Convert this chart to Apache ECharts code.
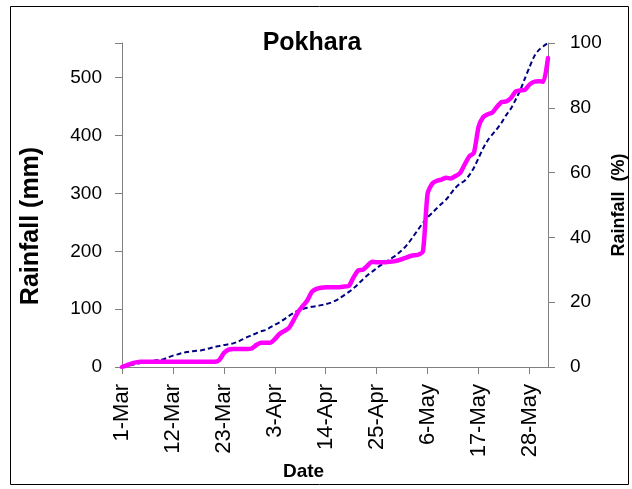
<!DOCTYPE html>
<html>
<head>
<meta charset="utf-8">
<script src="https://cdn.jsdelivr.net/npm/echarts@6/dist/echarts.min.js"></script>
<style>
  html, body { margin: 0; padding: 0; background: #fff; }
  #chart { width: 632px; height: 489px; }
</style>
</head>
<body>
<div id="chart"></div>
<script>
// daily categories, 1-Mar .. 1-Jun
const MONTHS = [['Mar', 31], ['Apr', 30], ['May', 31], ['Jun', 1]]
const dates = []
MONTHS.forEach(([m, n]) => { for (let d = 1; d <= n; d++) dates.push(d + '-' + m) })

// cumulative rainfall (mm), left axis
const rainMm = [
  0, 3, 6, 8, 9, 9, 9, 9, 9, 9,
  9, 9, 9, 9, 9, 9, 9, 9, 9, 9,
  9, 12, 24, 30, 31, 31, 31, 31, 32, 38,
  42, 42, 42, 48, 57, 62, 67, 80, 95, 105,
  115, 130, 135, 137, 138, 138, 138, 138, 139, 140,
  155, 167, 168, 175, 182, 181, 181, 181, 182, 183,
  185, 188, 191, 193, 194, 200, 300, 317, 322, 324,
  327, 326, 330, 335, 350, 364, 370, 415, 432, 437,
  440, 450, 458, 459, 465, 476, 478, 479, 488, 493,
  494, 493, 534
]

// cumulative rainfall (%), right axis
const rainPct = [
  0, 0.3, 0.6, 0.9, 1.2, 1.5, 1.8, 2.0, 2.2, 2.4,
  3.0, 3.5, 3.9, 4.3, 4.6, 4.8, 5.0, 5.1, 5.4, 5.8,
  6.2, 6.5, 6.8, 7.0, 7.3, 7.8, 8.5, 9.2, 9.8, 10.4,
  11.0, 11.4, 12.2, 13.0, 13.8, 14.7, 15.7, 16.6, 17.4, 17.9,
  18.3, 18.6, 18.8, 19.1, 19.4, 19.8, 20.4, 21.2, 22.2, 23.2,
  24.3, 25.6, 27.0, 28.3, 29.4, 30.5, 31.5, 32.4, 33.4, 34.3,
  35.5, 36.8, 38.5, 40.5, 42.5, 44.5, 46.2, 47.6, 49.0, 50.4,
  51.7, 53.5, 55.3, 56.6, 57.5, 59.2, 61.5, 64.5, 67.5, 70.0,
  71.8, 73.5, 75.5, 77.8, 79.8, 82.5, 85.4, 89.0, 92.5, 95.8,
  97.8, 99.0, 100
]

const FONT = 'Liberation Sans, Arial, sans-serif'
const AXIS_COLOR = '#808080'

const chart = echarts.init(document.getElementById('chart'))

chart.setOption({
  animation: false,
  textStyle: { fontFamily: FONT },
  title: {
    text: 'Pokhara',
    left: 307,
    top: 26,
    textAlign: 'center',
    textStyle: { fontSize: 25, fontWeight: 'bold', color: '#000', fontFamily: FONT }
  },
  graphic: [
    {
      type: 'rect',
      shape: { x: 10.5, y: 6.5, width: 618, height: 478 },
      style: { fill: 'none', stroke: '#000', lineWidth: 1 },
      z: -1
    },
    {
      type: 'text',
      left: 283,
      top: 462,
      style: { text: 'Date', font: 'bold 19px ' + FONT, fill: '#000' }
    }
  ],
  grid: { left: 122, right: 84, top: 43, bottom: 122, outerBoundsMode: 'none', containLabel: false },
  xAxis: {
    type: 'category',
    data: dates,
    boundaryGap: false,
    axisLine: { lineStyle: { color: AXIS_COLOR, width: 1 } },
    axisTick: { interval: 10, length: 7, lineStyle: { color: AXIS_COLOR } },
    axisLabel: {
      interval: 10,
      rotate: 90,
      margin: 17,
      fontSize: 22,
      color: '#000',
      fontFamily: FONT
    },
    splitLine: { show: false }
  },
  yAxis: [
    {
      type: 'value',
      min: 0,
      max: 560,
      interval: 100,
      name: 'Rainfall (mm)',
      nameLocation: 'middle',
      nameRotate: 90,
      nameGap: 78,
      nameMoveOverlap: false,
      nameTextStyle: { fontSize: 25, fontWeight: 'bold', color: '#000', padding: [0, 42, 0, 0], fontFamily: FONT },
      axisLine: { show: true, lineStyle: { color: AXIS_COLOR } },
      axisTick: { show: true, length: 7, lineStyle: { color: AXIS_COLOR } },
      axisLabel: {
        margin: 20,
        fontSize: 19,
        color: '#000',
        fontFamily: FONT,
        formatter: v => (v % 100 === 0 ? v : '')
      },
      splitLine: { show: false }
    },
    {
      type: 'value',
      min: 0,
      max: 100,
      interval: 20,
      position: 'right',
      name: 'Rainfall  (%)',
      nameLocation: 'middle',
      nameRotate: 90,
      nameGap: 62,
      nameMoveOverlap: false,
      nameTextStyle: { fontSize: 18, fontWeight: 'bold', color: '#000', fontFamily: FONT },
      axisLine: { show: true, lineStyle: { color: AXIS_COLOR } },
      axisTick: { show: true, length: 7, lineStyle: { color: AXIS_COLOR } },
      axisLabel: { margin: 22, fontSize: 19, color: '#000', fontFamily: FONT },
      splitLine: { show: false }
    }
  ],
  series: [
    {
      name: 'Rainfall (%)',
      type: 'line',
      yAxisIndex: 1,
      data: rainPct,
      showSymbol: false,
      smooth: 0.3,
      lineStyle: { color: '#000080', width: 2, type: [5, 3] },
      z: 2
    },
    {
      name: 'Rainfall (mm)',
      type: 'line',
      yAxisIndex: 0,
      data: rainMm,
      showSymbol: false,
      smooth: 0.2,
      lineStyle: { color: '#ff00ff', width: 4.5, cap: 'round', join: 'round' },
      z: 3
    }
  ]
})
</script>
</body>
</html>
